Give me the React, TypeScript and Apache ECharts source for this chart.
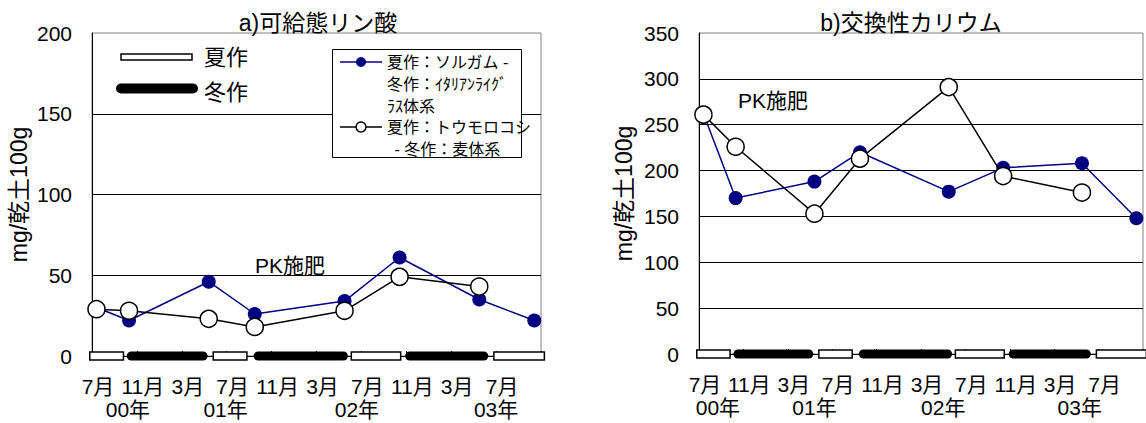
import React, { useEffect, useRef } from 'react';
import * as echarts from 'echarts';

// ---- data ----
const monthTickLabels = ['7月', '11月', '3月', '7月', '11月', '3月', '7月', '11月', '3月', '7月'];
const yearLabels = ['00年', '01年', '02年', '03年'];
const yearPosA = [3.2, 11.9, 23.6, 36.0];
const yearPosB = [1.7, 10.4, 22.0, 34.3];
// sampling dates, in months after July 2000
const sampleMonths = [0.4, 3.3, 10.4, 14.5, 22.5, 27.4, 34.5, 39.4];
const phosSorghum = [30, 22, 46, 26, 34, 61, 35, 22];
const phosCorn = [29, 28, 23, 18, 28, 49, 43];
const potSorghum = [262, 170, 188, 220, 177, 203, 208, 148];
const potCorn = [261, 226, 153, 213, 291, 194, 176];
// crop seasons
const seasonStart = [-0.2, 3.1, 10.8, 14.4, 23.1, 27.9, 35.8];
const seasonEnd = [2.8, 10.3, 13.8, 22.8, 27.5, 35.3, 40.3];
const seasonKind = ['夏作', '冬作', '夏作', '冬作', '夏作', '冬作', '夏作'];
const seriesNames = ['夏作：ソルガム - 冬作：ｲﾀﾘｱﾝﾗｲｸﾞﾗｽ体系', '夏作：トウモロコシ - 冬作：麦体系'];
const titles = ['a)可給態リン酸', 'b)交換性カリウム'];
const yName = 'mg/乾土100g';
const note = 'PK施肥';

const FONT = '"Liberation Sans", "Noto Sans CJK JP", sans-serif';
const NAVY = '#000080';

function monthAxis(gridIndex: number) {
  return {
    type: 'value', gridIndex, min: 0, max: 40, interval: 4,
    axisLine: { show: true, lineStyle: { color: '#000', width: 1 } },
    axisTick: { show: true, inside: true, length: 5, lineStyle: { color: '#000' } },
    splitLine: { show: false },
    axisLabel: {
      color: '#000', fontSize: 21, fontFamily: FONT, margin: 20, padding: [0, 0, 0, 12],
      formatter: (v: number) => monthTickLabels[Math.round(v / 4)] ?? '',
    },
  };
}
function yearAxis(gridIndex: number, pos: number[]) {
  return {
    type: 'value', gridIndex, min: 0, max: 40, position: 'bottom',
    axisLine: { show: false }, axisTick: { show: false }, splitLine: { show: false },
    axisLabel: {
      color: '#000', fontSize: 21, fontFamily: FONT, margin: 43,
      customValues: pos,
      formatter: (v: number) => {
        let best = 0;
        pos.forEach((p, i) => { if (Math.abs(p - v) < Math.abs(pos[best] - v)) best = i; });
        return yearLabels[best];
      },
    },
  };
}
function valueAxis(gridIndex: number, max: number, gap: number) {
  return {
    type: 'value', gridIndex, min: 0, max, interval: 50,
    name: yName, nameLocation: 'middle', nameGap: gap, nameRotate: 90,
    nameTextStyle: { color: '#000', fontSize: 23, fontFamily: FONT },
    axisLine: { show: true, lineStyle: { color: '#000', width: 1 } },
    axisTick: { show: false },
    splitLine: { show: true, showMinLine: false, showMaxLine: false, lineStyle: { color: '#000', width: 1 } },
    axisLabel: { color: '#000', fontSize: 21, fontFamily: FONT, margin: 20 },
  };
}
function seasonSeries(xi: number, yi: number) {
  return {
    type: 'custom', xAxisIndex: xi, yAxisIndex: yi, z: 5, silent: true, clip: false,
    data: seasonStart.map((s, i) => [s, seasonEnd[i], seasonKind[i] === '夏作' ? 0 : 1]),
    encode: { x: [0, 1], y: 2 },
    renderItem: (_p: any, api: any) => {
      const s = api.value(0), e = api.value(1), k = api.value(2);
      const a = api.coord([s, 0]);
      const b = api.coord([e, 0]);
      if (k === 0) {
        return {
          type: 'rect',
          shape: { x: a[0], y: a[1] - 4, width: b[0] - a[0], height: 8 },
          style: { fill: '#fff', stroke: '#000', lineWidth: 1.5 },
        };
      }
      return {
        type: 'rect',
        shape: { x: a[0], y: a[1] - 4.5, width: b[0] - a[0], height: 9, r: 4.5 },
        style: { fill: '#000' },
      };
    },
  };
}
function sorghumSeries(xi: number, yi: number, vals: number[]) {
  return {
    name: seriesNames[0], type: 'line', xAxisIndex: xi, yAxisIndex: yi, z: 3,
    data: vals.map((v, i) => [sampleMonths[i], v]),
    lineStyle: { color: NAVY, width: 1.5 },
    symbol: 'circle', symbolSize: 14,
    itemStyle: { color: NAVY, borderColor: NAVY, borderWidth: 0 },
  };
}
function cornSeries(xi: number, yi: number, vals: number[]) {
  return {
    name: seriesNames[1], type: 'line', xAxisIndex: xi, yAxisIndex: yi, z: 4,
    data: vals.map((v, i) => [sampleMonths[i], v]),
    lineStyle: { color: '#000', width: 1.5 },
    symbol: 'circle', symbolSize: 17,
    itemStyle: { color: '#fff', borderColor: '#000', borderWidth: 1.5 },
  };
}

export default function App() {
  const ref = useRef<HTMLDivElement>(null);
  useEffect(() => {
    if (!ref.current) return;
    const chart = echarts.init(ref.current, undefined, { renderer: 'svg' });
    const txt = (text: string, x: number, y: number, size: number, align = 'left') => ({
      type: 'text', x, y, z: 20,
      style: { text, fill: '#000', font: `${size}px ${FONT}`, textAlign: align, textVerticalAlign: 'middle' },
    });
    chart.setOption({
      animation: false,
      backgroundColor: '#fff',
      title: [
        { text: titles[0], left: 313, top: 6, textAlign: 'center', textStyle: { color: '#000', fontSize: 23, fontWeight: 'normal', fontFamily: FONT } },
        { text: titles[1], left: 906, top: 6, textAlign: 'center', textStyle: { color: '#000', fontSize: 23, fontWeight: 'normal', fontFamily: FONT } },
      ],
      grid: [
        { left: 92, top: 33, width: 449, height: 323, show: true, borderColor: '#808080', borderWidth: 1, containLabel: false },
        { left: 699, top: 33, width: 449, height: 321, show: true, borderColor: '#808080', borderWidth: 1, containLabel: false },
      ],
      xAxis: [monthAxis(0), yearAxis(0, yearPosA), monthAxis(1), yearAxis(1, yearPosB)],
      yAxis: [valueAxis(0, 200, 62), valueAxis(1, 350, 64)],
      series: [
        seasonSeries(0, 0),
        sorghumSeries(0, 0, phosSorghum),
        cornSeries(0, 0, phosCorn),
        seasonSeries(2, 1),
        sorghumSeries(2, 1, potSorghum),
        cornSeries(2, 1, potCorn),
      ],
      graphic: [
        // season legend
        { type: 'rect', z: 20, shape: { x: 121, y: 54, width: 71, height: 6 }, style: { fill: '#fff', stroke: '#000', lineWidth: 1.5 } },
        txt(seasonKind[0], 204, 57, 22),
        { type: 'rect', z: 20, shape: { x: 116, y: 83.5, width: 82, height: 10, r: 5 }, style: { fill: '#000' } },
        txt(seasonKind[1], 204, 92, 22),
        // series legend box
        { type: 'rect', z: 19, shape: { x: 332.5, y: 49.5, width: 189, height: 108 }, style: { fill: '#fff', stroke: '#000', lineWidth: 1 } },
        { type: 'line', z: 20, shape: { x1: 340, y1: 62, x2: 382, y2: 62 }, style: { stroke: NAVY, lineWidth: 1.5 } },
        { type: 'circle', z: 21, shape: { cx: 361, cy: 62, r: 5 }, style: { fill: NAVY } },
        txt('夏作：ソルガム -', 387, 62, 16),
        txt('冬作：ｲﾀﾘｱﾝﾗｲｸﾞ', 387, 84, 16),
        txt('ﾗｽ体系', 387, 106, 16),
        { type: 'line', z: 20, shape: { x1: 340, y1: 127, x2: 382, y2: 127 }, style: { stroke: '#000', lineWidth: 1.5 } },
        { type: 'circle', z: 21, shape: { cx: 361, cy: 127, r: 5 }, style: { fill: '#fff', stroke: '#000', lineWidth: 1.5 } },
        txt('夏作：トウモロコシ', 387, 127, 16),
        txt(' - 冬作：麦体系', 390, 149, 16),
        // annotations
        txt(note, 255, 265, 21),
        txt(note, 738, 100, 21),
      ],
    });
    return () => chart.dispose();
  }, []);
  return <div ref={ref} style={{ position: 'absolute', left: 0, top: 0, width: 1146, height: 423 }} />;
}
